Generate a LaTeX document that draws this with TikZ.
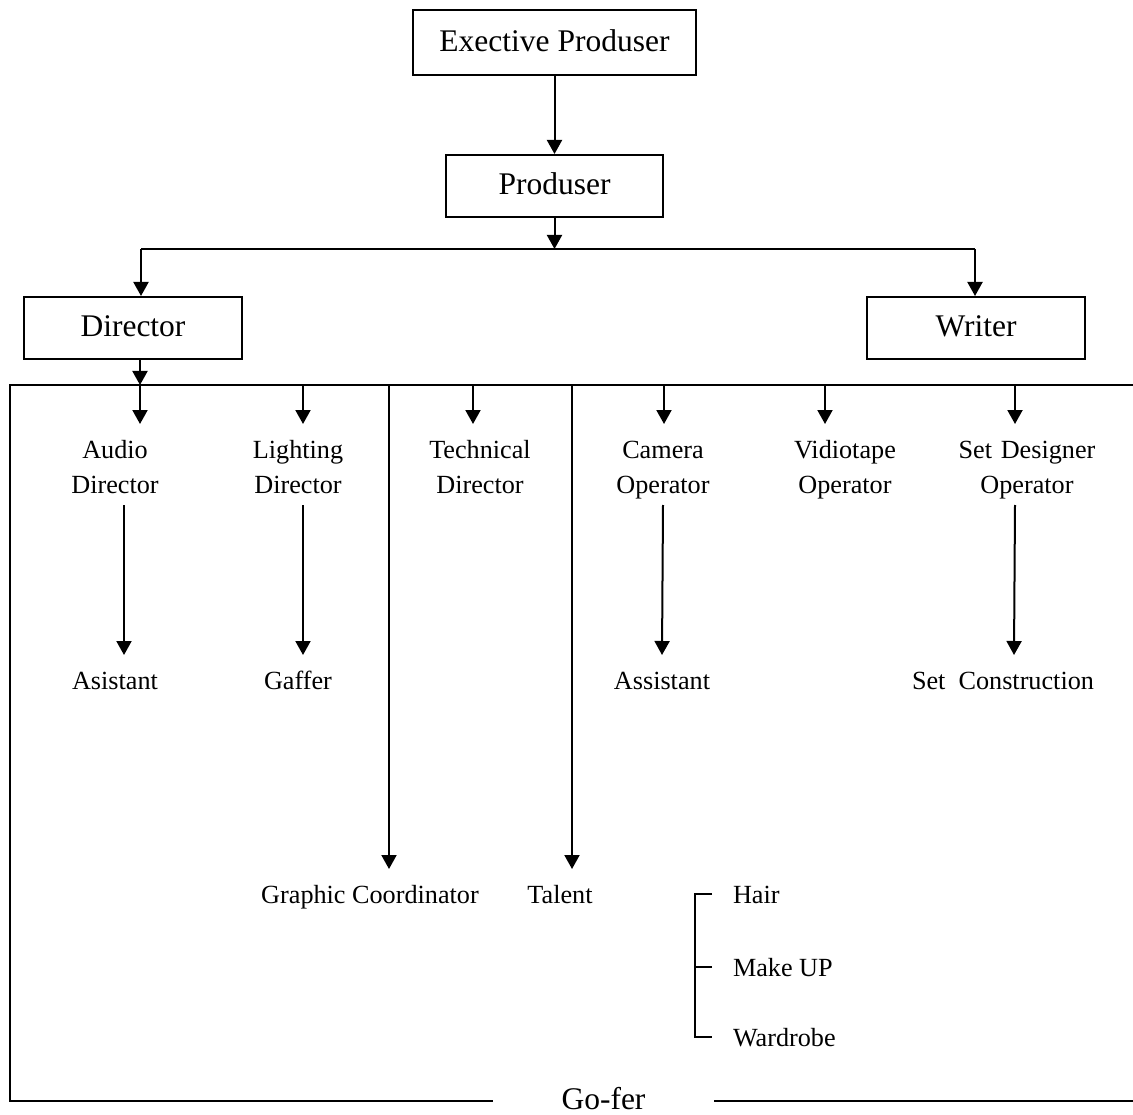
\documentclass[tikz,border=0pt]{standalone}
\usepackage{fontspec}
\setmainfont{Liberation Serif}
\usetikzlibrary{arrows.meta,calc}
\begin{document}
\begin{tikzpicture}[x=1pt,y=-1pt,
  line width=2pt,
  arr/.style={-{Triangle[width=15pt,length=14pt]}},
  bigfont/.style={font=\fontsize{31.5}{38}\selectfont},
  box/.style={draw, bigfont, line width=2pt, inner sep=0pt, minimum height=62pt,
              text height=22pt, text depth=4pt},
  lbl/.style={inner xsep=0pt, inner ysep=15pt, text height=18pt,
              font=\fontsize{26.2}{35}\selectfont, anchor=base},
  lbltwo/.style={lbl, text width=160pt, align=center},
  side/.style={inner sep=0pt, font=\fontsize{26.2}{35}\selectfont, anchor=base west},
]
\useasboundingbox (0,0) rectangle (1133,1115);

% top of the hierarchy
\node[box, minimum width=283pt, minimum height=65pt] (ep) at (554.5,42.5) {Exective Produser};
\node[box, minimum width=217pt] (prod) at (554.5,186) {Produser};
\node[box, minimum width=218pt] (dir) at (133,328) {Director};
\node[box, minimum width=218pt] (wri) at (976,328) {Writer};

\draw[arr] (ep) -- (prod);

\coordinate (hl) at (141,249);
\coordinate (hr) at (975,249);
\draw[arr] (prod.south) -- (prod.south |- hl);
\draw (hl) -- (hr);
\draw[arr] (hl) -- (hl |- dir.north);
\draw[arr] (hr) -- (hr |- wri.north);

% crew labels
\node[lbltwo] (audio) at (115,458) {Audio\\Director};
\node[lbltwo] (light) at (298,458) {Lighting\\Director};
\node[lbltwo] (tech)  at (480,458) {Technical\\Director};
\node[lbltwo] (cam)   at (663,458) {Camera\\Operator};
\node[lbltwo] (vid)   at (845,458) {Vidiotape\\Operator};
\node[lbltwo] (setd)  at (1027,458) {Set Designer\\Operator};

\node[lbl] (asis)  at (115,689) {Asistant};
\node[lbl] (gaff)  at (298,689) {Gaffer};
\node[lbl] (assis) at (662,689) {Assistant};
\node[lbl] (setc)  at (1003,689) {Set\ \ Construction};

\node[lbl] (graph)  at (370,903) {Graphic Coordinator};
\node[lbl] (talent) at (560,903) {Talent};

\node[side] (hair)   at (732,903) {Hair};
\node[side] (makeup) at (732,976) {Make UP};
\node[side] (ward)   at (732,1046) {Wardrobe};

\node[bigfont, inner xsep=68pt, inner ysep=0pt, text height=18pt, text depth=1pt] (gofer) at (603.5,1101) {Go-fer};

% crew bus and surrounding frame
\coordinate (bL) at (10,385);
\coordinate (bR) at (1133,385);
\coordinate (b0) at (140,385);
\draw[arr] (b0 |- dir.south) -- (b0);
\draw (bR) -- (bL) -- (bL |- gofer.west) -- (gofer.west);
\draw (gofer.east) -- (bR |- gofer.east);

% branches from the bus
\coordinate (b1) at (140,385);
\coordinate (b2) at (303,385);
\coordinate (b3) at (473,385);
\coordinate (b4) at (664,385);
\coordinate (b5) at (825,385);
\coordinate (b6) at (1015,385);
\coordinate (b7) at (389,385);
\coordinate (b8) at (572,385);
\draw[arr] (b1) -- (b1 |- audio.north);
\draw[arr] (b2) -- (b2 |- light.north);
\draw[arr] (b3) -- (b3 |- tech.north);
\draw[arr] (b4) -- (b4 |- cam.north);
\draw[arr] (b5) -- (b5 |- vid.north);
\draw[arr] (b6) -- (b6 |- setd.north);
\draw[arr] (b7) -- (b7 |- graph.north);
\draw[arr] (b8) -- (b8 |- talent.north);

% second level
\draw[arr] ([xshift=9pt,yshift=-47pt]audio.base) -- ([xshift=9pt]asis.north);
\draw[arr] ([xshift=5pt,yshift=-47pt]light.base) -- ([xshift=5pt]gaff.north);
\draw[arr] ([xshift=0pt,yshift=-47pt]cam.base) -- ([xshift=0pt]assis.north);
\draw[arr] ([xshift=-12pt,yshift=-47pt]setd.base) -- ([xshift=11pt]setc.north);

% bracket for hair / make up / wardrobe
\draw ([xshift=-20pt]hair.west) -| ([xshift=-37pt]ward.west) -- ([xshift=-20pt]ward.west);
\draw ([xshift=-20pt]makeup.west) -- ([xshift=-37pt]makeup.west);
\end{tikzpicture}
\end{document}
